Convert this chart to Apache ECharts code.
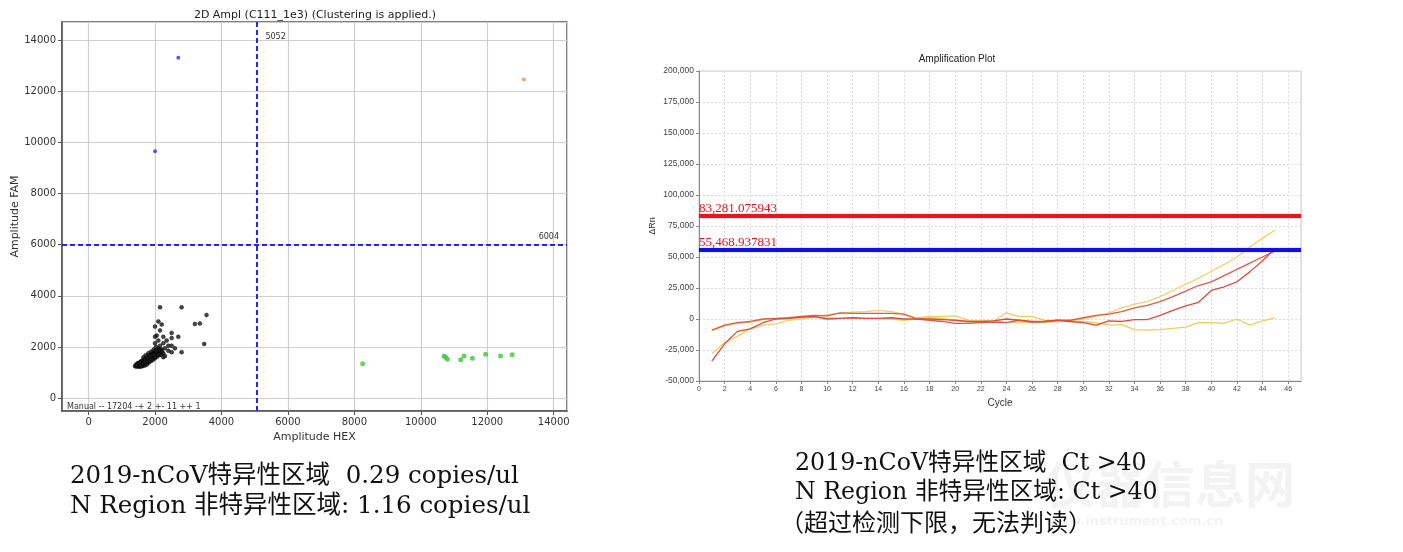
<!DOCTYPE html>
<html>
<head>
<meta charset="utf-8">
<title>ddPCR vs qPCR</title>
<script src="https://cdn.jsdelivr.net/npm/echarts@6/dist/echarts.min.js"></script>
<style>
  html, body { margin: 0; padding: 0; background: #fff; }
  #main { width: 1403px; height: 552px; }
</style>
</head>
<body>
<div id="main"></div>
<script>
// ---- 2D amplitude plot (ddPCR) ----
var ampThresholdHex = 5052;
var ampThresholdFam = 6004;
// FAM+ HEX- droplets
var famPos = [[2700, 13300], [2000, 9650]];
// FAM+ HEX+ droplets
var doublePos = [[13100, 12450]];
// FAM- HEX+ droplets
var hexPos = [[8250, 1350], [10700, 1650], [10750, 1600], [10800, 1520], [11200, 1500],
  [11300, 1650], [11550, 1560], [11950, 1720], [12400, 1650], [12750, 1700]];
// negative droplets (main cluster + tail)
var negDroplets = [
  [1400, 1250], [1450, 1230], [1480, 1300], [1500, 1260], [1520, 1350], [1550, 1280],
  [1560, 1400], [1580, 1320], [1600, 1250], [1600, 1450], [1620, 1380], [1650, 1300],
  [1650, 1500], [1680, 1420], [1700, 1350], [1700, 1550], [1720, 1480], [1750, 1400],
  [1750, 1600], [1780, 1520], [1800, 1450], [1800, 1650], [1820, 1560], [1850, 1500],
  [1850, 1700], [1870, 1600], [1900, 1550], [1900, 1750], [1920, 1650], [1950, 1600],
  [1950, 1800], [1970, 1700], [2000, 1650], [2000, 1850], [2020, 1750], [2050, 1700],
  [2050, 1900], [2080, 1800], [2100, 1750], [2100, 1950], [2150, 1850], [2180, 1800],
  [2200, 1900], [2250, 1750], [1530, 1230], [1460, 1340], [1630, 1260], [1580, 1440],
  [1700, 1280], [1760, 1320], [1820, 1400], [1880, 1450], [1940, 1500], [2000, 1560],
  [2060, 1620], [2120, 1680], [2180, 1700], [1650, 1600], [1720, 1680], [1800, 1760],
  [1880, 1820], [1960, 1900], [2030, 2000], [2300, 1650], [2250, 1600], [1420, 1300],
  [1490, 1380], [1540, 1320], [1610, 1340], [1670, 1380], [1730, 1430], [1790, 1480],
  [1850, 1560], [1910, 1620], [1970, 1660], [2070, 1760], [2130, 1800], [1560, 1240],
  [1660, 1440], [1740, 1520], [1840, 1620], [1930, 1700], [1510, 1300], [1570, 1360],
  [1630, 1420], [1690, 1460], [1750, 1500], [1810, 1540], [1870, 1660], [1930, 1580],
  [1990, 1740], [2040, 1800], [2110, 1860], [1470, 1270], [1590, 1290], [1640, 1350],
  [1710, 1400], [1770, 1450], [1830, 1480], [1890, 1520], [1980, 1620], [2160, 1760],
  [1440, 1280], [1540, 1390], [1690, 1520], [1780, 1580], [1860, 1640], [1950, 1700],
  [2010, 1700], [2090, 1720], [2210, 1820], [2140, 1900], [2060, 1860],
  [2150, 3550], [2800, 3550], [3550, 3250], [3200, 2900], [3350, 2920], [3480, 2120],
  [2000, 2800], [2100, 3000], [2200, 2880], [2150, 2650], [2050, 2450], [2000, 2400],
  [2250, 2400], [2500, 2550], [2500, 2350], [2700, 2400], [2350, 2250], [2250, 2150],
  [2400, 2050], [2500, 2050], [2600, 1950], [2800, 1800], [2500, 1800], [2000, 2150],
  [2100, 2250], [2300, 1950], [2150, 2050], [2400, 1850]
];
var dropletSummary = 'Manual -- 17204 -+ 2 +- 11 ++ 1';

// ---- amplification plot (qPCR) ----
var cycles = [];
for (var c = 1; c <= 45; c++) { cycles.push(c); }
var curveYellowUp = [-28000, -19000, -14000, -8000, -5000, -4000, -1000, 0, 1500, 3500,
  4500, 5500, 6000, 7000, 6000, 4000, 1000, 2000, 2000, 2500, -1000, -1500, -1500, -2500,
  -3000, -3000, -3000, -2000, -1500, 0, 2000, 5000, 9000, 12000, 14000, 18000, 23000,
  28000, 33000, 38500, 44000, 50000, 58000, 65000, 72000];
var curveRedUp = [-9000, -5000, -3000, -2000, 0, 500, 1000, 2000, 3000, 2500, 5000, 4500,
  4500, 4500, 4500, 4000, 0, -1000, -2000, -3500, -3500, -3000, -2500, -3000, -1000,
  -2500, -2000, -1000, -1000, 1000, 3000, 4000, 6000, 9000, 11000, 14000, 18000, 22500,
  27000, 30000, 35000, 40000, 45000, 50000, 55000];
var curveRedLate = [-34000, -20000, -10000, -8000, -3000, 0, 500, 1500, 2000, 0, 500, 1000,
  500, 500, 1000, 0, 0, 0, -500, -1000, -2000, -2000, -1500, 0, -1000, -2000, -2000, -1000,
  -2000, -3000, -5000, -1500, -2000, -500, -500, 3000, 7000, 10500, 13500, 23000, 26000,
  30000, 38000, 47000, 57000];
var curveYellowFlat = [-9500, -5500, -3500, -2500, -500, 0, 500, 1000, 1500, 1000, 500,
  1000, 500, 500, 0, -1000, 0, 1000, 500, -1000, -2000, -2500, -2000, 5000, 2000, 2000,
  -1000, -1500, -2000, -2000, -3000, -5000, -4500, -8500, -9000, -8500, -7500, -6500,
  -3000, -3000, -3500, 0, -5000, -1600, 1000];
var thresholdNRegion = 83281.075943;
var thresholdNcov = 55468.937831;

// ---- captions ----
var leftCaption = ['2019-nCoV特异性区域  0.29 copies/ul', 'N Region 非特异性区域: 1.16 copies/ul'];
var rightCaption = ['2019-nCoV特异性区域  Ct >40', 'N Region 非特异性区域: Ct >40', '（超过检测下限，无法判读）'];

function zip(xs, ys) {
  return xs.map(function (x, i) { return [x, ys[i]]; });
}
function thousands(v) {
  return String(v).replace(/\B(?=(\d{3})+(?!\d))/g, ',');
}
function plain(v) {
  return String(v);
}
function fmtThreshold(v) {
  var parts = v.toFixed(6).split('.');
  return thousands(parts[0]) + '.' + parts[1];
}

var sans = 'DejaVu Sans';

var myChart = echarts.init(document.getElementById('main'));
var option = {
  backgroundColor: '#fff',
  animation: false,
  grid: [
    { left: 62, top: 22, width: 505, height: 389, show: true, borderColor: '#555', borderWidth: 1.5 },
    { left: 699, top: 71, width: 602, height: 310, show: true, borderColor: '#c8c8c8', borderWidth: 1 }
  ],
  xAxis: [
    {
      gridIndex: 0, type: 'value', min: -800, max: 14400, splitNumber: 7,
      name: 'Amplitude HEX', nameLocation: 'middle', nameGap: 20,
      nameTextStyle: { fontSize: 11, fontFamily: sans, color: '#333' },
      axisLine: { show: true, onZero: false, lineStyle: { color: '#555', width: 1.5 } },
      axisTick: { show: true, length: 4, lineStyle: { color: '#555' } },
      axisLabel: { fontSize: 10, fontFamily: sans, color: '#333', margin: 6, formatter: plain,
        showMinLabel: false, showMaxLabel: false },
      splitLine: { show: true, lineStyle: { color: '#cfcfcf', width: 1.2 } }
    },
    {
      gridIndex: 1, type: 'value', min: 0, max: 47, interval: 2,
      name: 'Cycle', nameLocation: 'middle', nameGap: 17,
      nameTextStyle: { fontSize: 10, fontFamily: 'Liberation Sans', color: '#333' },
      axisLine: { show: true, onZero: false, lineStyle: { color: '#888' } },
      axisTick: { show: true, length: 3, lineStyle: { color: '#888' } },
      axisLabel: { fontSize: 7, fontFamily: 'Liberation Sans', color: '#444', margin: 5, showMaxLabel: false },
      splitLine: { show: true, lineStyle: { color: '#dcdcdc', type: [2, 2] } }
    }
  ],
  yAxis: [
    {
      gridIndex: 0, type: 'value', min: -500, max: 14700, splitNumber: 7,
      name: 'Amplitude FAM', nameLocation: 'middle', nameGap: 35,
      nameTextStyle: { fontSize: 11, fontFamily: sans, color: '#333' },
      axisLine: { show: true, onZero: false, lineStyle: { color: '#555', width: 1.5 } },
      axisTick: { show: true, length: 4, lineStyle: { color: '#555' } },
      axisLabel: { fontSize: 10, fontFamily: sans, color: '#333', margin: 6, formatter: plain,
        showMinLabel: false, showMaxLabel: false },
      splitLine: { show: true, lineStyle: { color: '#cfcfcf', width: 1.2 } }
    },
    {
      gridIndex: 1, type: 'value', min: -50000, max: 200000, interval: 25000,
      name: 'ΔRn', nameLocation: 'middle', nameGap: 42,
      nameTextStyle: { fontSize: 9, fontFamily: 'Liberation Sans', color: '#333' },
      axisLine: { show: true, onZero: false, lineStyle: { color: '#888' } },
      axisTick: { show: true, length: 3, lineStyle: { color: '#888' } },
      axisLabel: { fontSize: 8.5, fontFamily: 'Liberation Sans', color: '#444', margin: 5, formatter: thousands },
      splitLine: { show: true, lineStyle: { color: '#dcdcdc', type: [2, 2] } }
    }
  ],
  series: [
    {
      name: 'negative', type: 'scatter', xAxisIndex: 0, yAxisIndex: 0,
      data: negDroplets, symbolSize: 4,
      itemStyle: { color: '#1a1a1a', borderColor: '#000', borderWidth: 0.5 },
      markLine: {
        silent: true, symbol: 'none', animation: false,
        lineStyle: { color: '#2626e8', width: 2, type: [5, 3] },
        data: [
          { xAxis: ampThresholdHex, label: { show: false } },
          { yAxis: ampThresholdFam, label: { show: true, position: 'insideEndTop', formatter: String(ampThresholdFam),
            fontSize: 8, fontFamily: sans, color: '#333', distance: [8, 4] } }
        ]
      }
    },
    {
      name: 'FAM+', type: 'scatter', xAxisIndex: 0, yAxisIndex: 0,
      data: famPos, symbolSize: 4, itemStyle: { color: '#2f2ff5' }
    },
    {
      name: 'FAM+HEX+', type: 'scatter', xAxisIndex: 0, yAxisIndex: 0,
      data: doublePos, symbolSize: 4, itemStyle: { color: '#f08080' }
    },
    {
      name: 'HEX+', type: 'scatter', xAxisIndex: 0, yAxisIndex: 0,
      data: hexPos, symbolSize: 5, itemStyle: { color: '#3fc43f' }
    },
    {
      name: 'yellow1', type: 'line', xAxisIndex: 1, yAxisIndex: 1,
      data: zip(cycles, curveYellowUp), showSymbol: false,
      lineStyle: { color: '#ead36a', width: 1.3 },
      markLine: {
        silent: true, symbol: 'none', animation: false,
        label: { show: true, position: 'insideStartTop', distance: [0, 1], color: '#e8101a',
          fontSize: 13, fontFamily: 'Liberation Serif' },
        data: [
          { yAxis: thresholdNRegion, lineStyle: { color: '#e8141e', width: 4, type: 'solid', shadowColor: 'rgba(240,80,90,0.5)', shadowBlur: 2 },
            label: { formatter: fmtThreshold(thresholdNRegion) } },
          { yAxis: thresholdNcov, lineStyle: { color: '#1010d8', width: 4, type: 'solid', shadowColor: 'rgba(90,90,240,0.5)', shadowBlur: 2 },
            label: { formatter: fmtThreshold(thresholdNcov) } }
        ]
      }
    },
    {
      name: 'yellow2', type: 'line', xAxisIndex: 1, yAxisIndex: 1,
      data: zip(cycles, curveYellowFlat), showSymbol: false,
      lineStyle: { color: '#e8cf5c', width: 1.3 }
    },
    {
      name: 'red1', type: 'line', xAxisIndex: 1, yAxisIndex: 1,
      data: zip(cycles, curveRedUp), showSymbol: false,
      lineStyle: { color: '#e05a47', width: 1.3 }
    },
    {
      name: 'red2', type: 'line', xAxisIndex: 1, yAxisIndex: 1,
      data: zip(cycles, curveRedLate), showSymbol: false,
      lineStyle: { color: '#dc4b3c', width: 1.3 }
    }
  ]
};
myChart.setOption(option);

// texts placed from the axes / free captions
var vx = myChart.convertToPixel({ xAxisIndex: 0 }, ampThresholdHex);
var graphics = [
  { type: 'text', x: 315, y: 15, style: { text: '2D Ampl (C111_1e3) (Clustering is applied.)', font: '11px "DejaVu Sans"', fill: '#222', align: 'center', verticalAlign: 'middle' } },
  { type: 'text', x: 957, y: 59, style: { text: 'Amplification Plot', font: '10px "Liberation Sans"', fill: '#222', align: 'center', verticalAlign: 'middle' } },
  { type: 'text', x: vx + 9, y: 37, style: { text: String(ampThresholdHex), font: '8px "DejaVu Sans"', fill: '#333', verticalAlign: 'middle' } },
  { type: 'text', x: 67, y: 407, style: { text: dropletSummary, font: '8px "DejaVu Sans"', fill: '#333', verticalAlign: 'middle' } },
  // watermark
  { type: 'text', x: 1045, y: 484, z: -1, style: { text: '仪器信息网', font: 'bold 50px "Noto Sans CJK SC"', fill: '#f3f3f3', verticalAlign: 'middle' } },
  { type: 'text', x: 1045, y: 522, z: -1, style: { text: 'www.instrument.com.cn', font: 'bold 13px "DejaVu Sans"', fill: '#f3f3f3', verticalAlign: 'middle', letterSpacing: 2 } }
];
leftCaption.forEach(function (t, i) {
  graphics.push({ type: 'text', x: 70, y: 477 + i * 30, style: { text: t, font: '24.5px "DejaVu Serif", "Noto Sans CJK SC", serif', fill: '#111', verticalAlign: 'middle' } });
});
rightCaption.forEach(function (t, i) {
  var f = i === 2 ? '24px "Noto Sans CJK SC", serif' : '23.7px "DejaVu Serif", "Noto Sans CJK SC", serif';
  graphics.push({ type: 'text', x: i === 2 ? 780 : 795, y: 464 + i * 29, style: { text: t, font: f, fill: '#111', verticalAlign: 'middle' } });
});
myChart.setOption({ graphic: graphics });
</script>
</body>
</html>
